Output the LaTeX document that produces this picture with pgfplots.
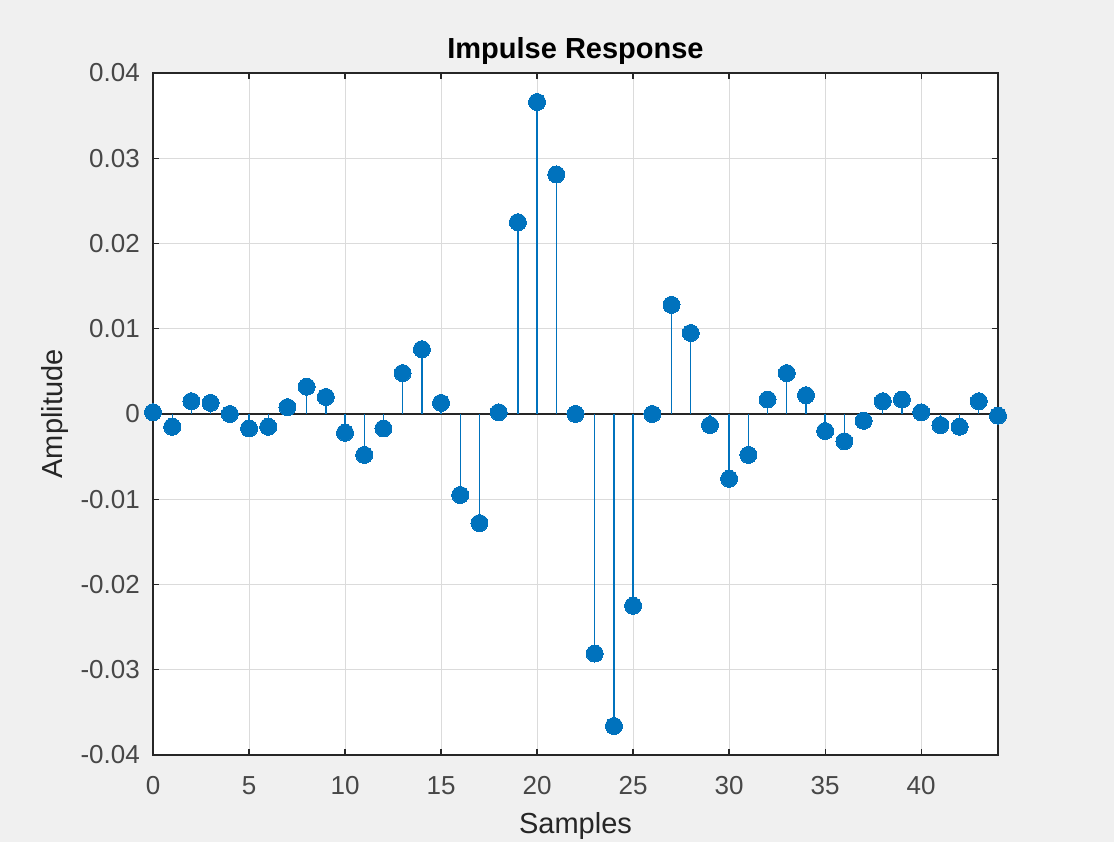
\documentclass[border=0pt]{standalone}
\usepackage{pgfplots}
\pgfplotsset{compat=1.18}
\usepackage{fontspec}
\setmainfont{Liberation Sans}
\definecolor{bg}{HTML}{F0F0F0}
\definecolor{ax}{HTML}{262626}
\definecolor{mblue}{HTML}{0072BD}
\begin{document}
\begin{tikzpicture}
\fill[bg] (-153pt,-87pt) rectangle (961pt,755pt);
\begin{axis}[
  at={(0pt,0pt)}, anchor=south west,
  scale only axis, width=845pt, height=682pt,
  xmin=0, xmax=44, ymin=-0.04, ymax=0.04,
  scaled y ticks=false, scaled x ticks=false,
  axis background/.style={fill=white},
  axis line style={ax, line width=1.3pt},
  every tick/.style={ax, line width=1.3pt},
  major tick length=6pt,
  tick align=inside,
  xtick pos=both, ytick pos=both,
  xtick={0,5,...,40},
  xticklabels={0,5,10,15,20,25,30,35,40},
  ytick={-0.04,-0.03,-0.02,-0.01,0,0.01,0.02,0.03,0.04},
  yticklabels={-0.04,-0.03,-0.02,-0.01,0,0.01,0.02,0.03,0.04},
  ticklabel style={font=\fontsize{26}{30}\selectfont, text=ax!85!white, inner sep=0pt},
  xticklabel style={anchor=base, yshift=-40pt},
  yticklabel style={anchor=east, xshift=-13pt},
  grid=major,
  major grid style={black!14, line width=1pt},
  xlabel={Samples}, ylabel={Amplitude},
  label style={font=\fontsize{29}{33}\selectfont, text=ax, inner sep=0pt},
  xlabel style={at={(axis description cs:0.5,0)}, anchor=base, yshift=-79pt},
  ylabel style={at={(axis description cs:-0.1065,0.5)}, anchor=base, rotate=0},
  title={\textbf{Impulse Response}},
  title style={font=\fontsize{29}{33}\selectfont, text=black, inner sep=0pt, at={(axis description cs:0.5,1)}, anchor=base, yshift=8pt},
  clip=false,
]
\addplot[ax, line width=1.3pt] coordinates {(0,0) (44,0)};
\addplot[ycomb, mblue, line width=1.4pt, mark=*, mark size=8.5pt, mark options={fill=mblue, draw=mblue, line width=0pt}] coordinates {
(0,0.0002) (1,-0.0015) (2,0.0015) (3,0.0013) (4,0) (5,-0.0017) (6,-0.0015) (7,0.0008) (8,0.0032) (9,0.002)
(10,-0.0022) (11,-0.0048) (12,-0.0017) (13,0.0048) (14,0.0076) (15,0.0013) (16,-0.0095) (17,-0.0128) (18,0.0002) (19,0.0225)
(20,0.0366) (21,0.0281) (22,0) (23,-0.0281) (24,-0.0366) (25,-0.0225) (26,0) (27,0.0128) (28,0.0095) (29,-0.0013)
(30,-0.0076) (31,-0.0048) (32,0.0017) (33,0.0048) (34,0.0022) (35,-0.002) (36,-0.0032) (37,-0.0008) (38,0.0015) (39,0.0017)
(40,0.0002) (41,-0.0013) (42,-0.0015) (43,0.0015) (44,-0.0002)
};
\end{axis}
\end{tikzpicture}
\end{document}
